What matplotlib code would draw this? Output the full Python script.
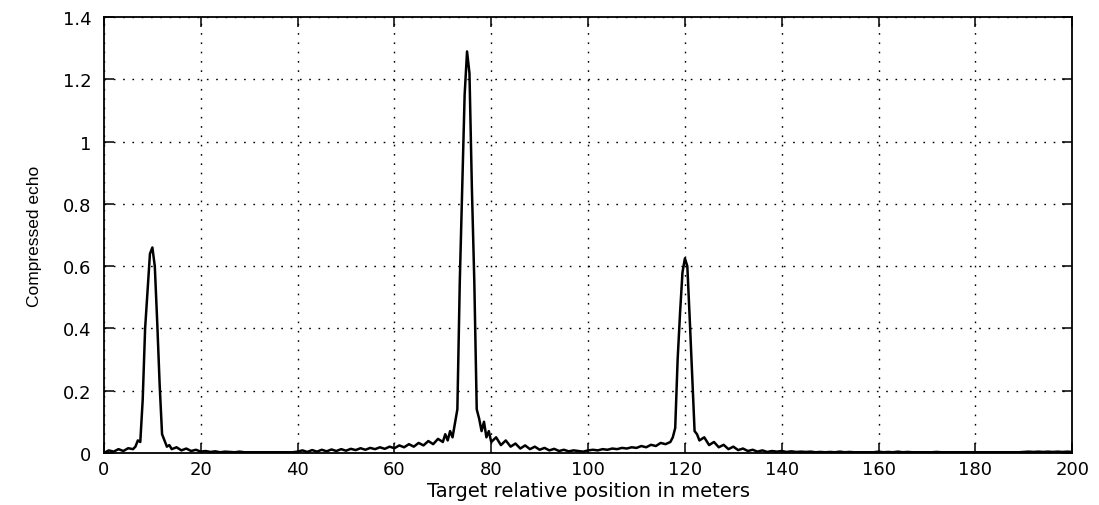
import numpy as np
import matplotlib.pyplot as plt

plt.rcParams['font.family'] = ['DejaVu Sans']

# sample positions (m) and compressed echo amplitude
x_a = np.arange(0, 7, 1.0)
y_a = [0.0, 0.008, 0.004, 0.012, 0.006, 0.015, 0.012]

x_p1 = np.arange(6.5, 14.0, 0.5)
y_p1 = [0.02, 0.04, 0.035, 0.17, 0.40, 0.52, 0.64, 0.66, 0.60, 0.42, 0.22,
        0.06, 0.04, 0.02, 0.025]

x_b = np.arange(14, 70, 1.0)
y_b = [0.012, 0.018, 0.008, 0.014, 0.006, 0.01, 0.004, 0.006, 0.003, 0.005,
       0.002, 0.004, 0.003, 0.002, 0.004, 0.002, 0.002, 0.002, 0.002, 0.002,
       0.002, 0.002, 0.002, 0.002, 0.002, 0.002, 0.004, 0.008, 0.003, 0.009,
       0.004, 0.01, 0.005, 0.011, 0.006, 0.012, 0.007, 0.013, 0.009, 0.015,
       0.01, 0.016, 0.012, 0.018, 0.013, 0.02, 0.015, 0.024, 0.018, 0.028,
       0.02, 0.032, 0.024, 0.038, 0.028, 0.045]

x_p2 = np.arange(70, 80.5, 0.5)
y_p2 = [0.035, 0.06, 0.04, 0.07, 0.05, 0.095, 0.14, 0.55, 0.85, 1.15, 1.29,
        1.22, 0.85, 0.55, 0.14, 0.11, 0.07, 0.10, 0.05, 0.07, 0.035]

x_c = np.arange(81, 117, 1.0)
y_c = [0.05, 0.025, 0.04, 0.02, 0.03, 0.014, 0.024, 0.012, 0.02, 0.01,
       0.016, 0.008, 0.013, 0.006, 0.01, 0.005, 0.008, 0.006, 0.004, 0.008,
       0.01, 0.008, 0.012, 0.01, 0.014, 0.012, 0.016, 0.014, 0.018, 0.016,
       0.022, 0.018, 0.026, 0.022, 0.032, 0.028]

x_p3 = np.arange(117, 123.5, 0.5)
y_p3 = [0.035, 0.05, 0.08, 0.30, 0.45, 0.58, 0.625, 0.60, 0.43, 0.25, 0.07,
        0.06, 0.04]

x_d = np.arange(124, 201, 1.0)
y_d = [0.05, 0.025, 0.035, 0.018, 0.026, 0.012, 0.02, 0.009, 0.014, 0.006,
       0.01, 0.004, 0.008, 0.003, 0.006, 0.004, 0.006, 0.003, 0.005, 0.003,
       0.004, 0.003, 0.004, 0.002, 0.003, 0.002, 0.003, 0.002, 0.004, 0.002,
       0.003, 0.002, 0.002, 0.002, 0.002, 0.002, 0.004, 0.002, 0.003, 0.002,
       0.004, 0.002, 0.003, 0.002, 0.002, 0.002, 0.002, 0.002, 0.003, 0.002,
       0.002, 0.002, 0.002, 0.002, 0.002, 0.002, 0.002, 0.002, 0.002, 0.002,
       0.002, 0.002, 0.002, 0.002, 0.002, 0.002, 0.003, 0.004, 0.003, 0.004,
       0.003, 0.004, 0.003, 0.004, 0.003, 0.004, 0.003]

x = np.concatenate([x_a, x_p1, x_b, x_p2, x_c, x_p3, x_d])
y = np.concatenate([y_a, y_p1, y_b, y_p2, y_c, y_p3, y_d])

xticks = [0, 20, 40, 60, 80, 100, 120, 140, 160, 180, 200]
yticks = [0, 0.2, 0.4, 0.6, 0.8, 1.0, 1.2, 1.4]
ytick_labels = ['0', '0.2', '0.4', '0.6', '0.8', '1', '1.2', '1.4']

fig = plt.figure(figsize=(10.99, 5.06), dpi=100)
ax = fig.add_axes([0.0946, 0.103, 0.881, 0.861])
ax.plot(x, y, color='black', linewidth=1.8)

ax.set_xlim(0, 200)
ax.set_ylim(0, 1.4)
ax.set_xticks(xticks)
ax.set_yticks(yticks)
ax.set_yticklabels(ytick_labels)
ax.tick_params(direction='in', top=True, right=True, length=7, labelsize=13,
               width=1.1)
ax.tick_params(axis='y', pad=9)
ax.tick_params(axis='x', pad=5)
ax.grid(True, color='black', linestyle=(0, (1.2, 5.5)), linewidth=1.0)
for s in ax.spines.values():
    s.set_linewidth(1.3)

ax.set_xlabel('Target relative position in meters', fontsize=14, labelpad=2)
ax.set_ylabel('Compressed echo', fontsize=12.5, labelpad=15,
              family=['Liberation Sans'])

fig.savefig('out.png', dpi=100)
